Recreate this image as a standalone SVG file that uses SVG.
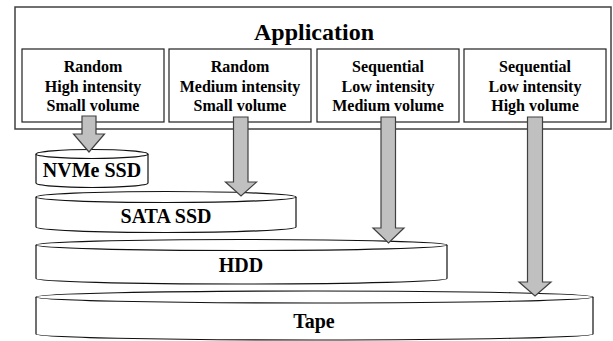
<svg xmlns="http://www.w3.org/2000/svg" width="613" height="341" viewBox="0 0 613 341">
  <style>
    .frame { fill: #ffffff; stroke: #404040; stroke-width: 1.5; }
    .box { fill: #ffffff; stroke: #202020; stroke-width: 1.2; }
    .cyl { fill: #ffffff; stroke: #111111; stroke-width: 1.2; }
    .title { font-family: "Liberation Serif", "Times New Roman", serif; font-weight: bold; font-size: 24px; fill: #000; text-anchor: middle; }
    .lbl { font-family: "Liberation Serif", "Times New Roman", serif; font-weight: bold; font-size: 16px; fill: #000; text-anchor: middle; }
    .store { font-family: "Liberation Serif", "Times New Roman", serif; font-weight: bold; font-size: 20px; fill: #000; text-anchor: middle; }
    .arrow { fill: #c0c0c0; stroke: #404040; stroke-width: 1.2; stroke-linejoin: miter; }
  </style>

  <!-- Application frame with the four workload boxes -->
  <g id="application">
    <rect class="frame" x="15" y="7" width="596" height="122"/>
    <text class="title" x="314" y="40">Application</text>
  </g>

  <g id="workload-random-high">
    <rect class="box" x="22" y="49" width="142" height="73"/>
    <text class="lbl" x="93" y="71.5">Random</text>
    <text class="lbl" x="93" y="91.5">High intensity</text>
    <text class="lbl" x="93" y="111">Small volume</text>
  </g>

  <g id="workload-random-medium">
    <rect class="box" x="169" y="49" width="142" height="73"/>
    <text class="lbl" x="240" y="71.5">Random</text>
    <text class="lbl" x="240" y="91.5">Medium intensity</text>
    <text class="lbl" x="240" y="111">Small volume</text>
  </g>

  <g id="workload-seq-medium">
    <rect class="box" x="317" y="49" width="142" height="73"/>
    <text class="lbl" x="388" y="71.5">Sequential</text>
    <text class="lbl" x="388" y="91.5">Low intensity</text>
    <text class="lbl" x="388" y="111">Medium volume</text>
  </g>

  <g id="workload-seq-high">
    <rect class="box" x="464" y="49" width="142" height="73"/>
    <text class="lbl" x="535" y="71.5">Sequential</text>
    <text class="lbl" x="535" y="91.5">Low intensity</text>
    <text class="lbl" x="535" y="111">High volume</text>
  </g>

  <!-- Storage tiers drawn as flat cylinders -->
  <g id="nvme-ssd">
    <path class="cyl" d="M36,154 L36,183 A56,4.5 0 0 0 148,183 L148,154"/>
    <ellipse class="cyl" cx="92" cy="154" rx="56" ry="4.5"/>
    <text class="store" x="92" y="177">NVMe SSD</text>
  </g>

  <g id="sata-ssd">
    <path class="cyl" d="M36,197 L36,227 A130,5.5 0 0 0 296,227 L296,197"/>
    <ellipse class="cyl" cx="166" cy="197" rx="130" ry="5.5"/>
    <text class="store" x="166" y="223">SATA SSD</text>
  </g>

  <g id="hdd">
    <path class="cyl" d="M36,245 L36,278.5 A205.5,5.5 0 0 0 447,278.5 L447,245"/>
    <ellipse class="cyl" cx="241.5" cy="245" rx="205.5" ry="5.5"/>
    <text class="store" x="241" y="272">HDD</text>
  </g>

  <g id="tape">
    <path class="cyl" d="M36,297 L36,334 A278.5,6 0 0 0 593,334 L593,297"/>
    <ellipse class="cyl" cx="314.5" cy="297" rx="278.5" ry="6"/>
    <text class="store" x="314" y="328">Tape</text>
  </g>

  <!-- Block arrows from each workload to its storage tier -->
  <g id="connectors">
    <polygon class="arrow" points="82,116 96,116 96,134 104.5,134 89,152 73.5,134 82,134"/>
    <polygon class="arrow" points="233.5,117 248,117 248,182 256.5,182 241,196 225.5,182 233.5,182"/>
    <polygon class="arrow" points="381,117 395.5,117 395.5,228 404,228 388.5,243 373,228 381,228"/>
    <polygon class="arrow" points="527.5,117 542.5,117 542.5,282 551,282 535,296 519,282 527.5,282"/>
  </g>
</svg>
